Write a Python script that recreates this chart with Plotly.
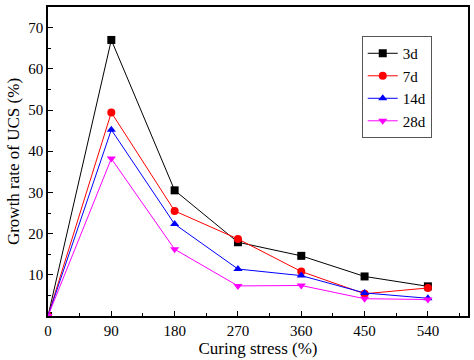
import plotly.graph_objects as go

curing_stress = [0, 90, 180, 270, 360, 450, 540]
series_names = ["3d", "7d", "14d", "28d"]
growth_3d = [0, 67.0, 30.5, 17.9, 14.6, 9.6, 7.2]
growth_7d = [0, 49.4, 25.5, 18.7, 10.8, 5.4, 6.8]
growth_14d = [0, 45.2, 22.3, 11.4, 9.8, 5.6, 4.3]
growth_28d = [0, 38.2, 16.2, 7.3, 7.4, 4.2, 4.0]
x_ticks = [0, 90, 180, 270, 360, 450, 540]
y_ticks = [10, 20, 30, 40, 50, 60, 70]

colors = ["#000000", "#ff0000", "#0000ff", "#ff00ff"]
symbols = ["square", "circle", "triangle-up", "triangle-down"]
values = [growth_3d, growth_7d, growth_14d, growth_28d]

fig = go.Figure()
for name, vals, c, s in zip(series_names, values, colors, symbols):
    fig.add_trace(go.Scatter(
        x=curing_stress, y=vals, name=name, mode="lines+markers",
        line=dict(color=c, width=1),
        marker=dict(symbol=s, size=8, color=c),
    ))

font = "Liberation Serif, Times New Roman, serif"
fig.update_layout(
    width=474, height=360,
    margin=dict(l=48, r=6, t=7, b=44),
    paper_bgcolor="white", plot_bgcolor="white",
    font=dict(family=font, size=15, color="black"),
    showlegend=True,
    legend=dict(x=0.747, y=0.906, xanchor="left", yanchor="top",
                bordercolor="#555555", borderwidth=1, bgcolor="white",
                font=dict(size=15), tracegroupgap=0, itemwidth=30),
)
fig.update_xaxes(
    range=[0, 597], tickvals=x_ticks, ticks="inside", ticklen=5,
    tickwidth=1, tickcolor="black",
    minor=dict(dtick=45, tick0=0, ticks="inside", ticklen=3, tickcolor="black"),
    showline=True, linecolor="black", linewidth=1.5, mirror=True,
    showgrid=False, zeroline=False, automargin=False,
    title=dict(text="Curing stress (%)", font=dict(size=17), standoff=2),
    tickfont=dict(size=15),
)
fig.update_yaxes(
    range=[0, 75], tickvals=y_ticks, ticks="inside", ticklen=5,
    tickwidth=1, tickcolor="black",
    minor=dict(dtick=5, tick0=0, ticks="inside", ticklen=3, tickcolor="black"),
    showline=True, linecolor="black", linewidth=1.5, mirror=True,
    showgrid=False, zeroline=False, automargin=False,
    title=dict(text="Growth rate of UCS (%)", font=dict(size=17), standoff=4),
    tickfont=dict(size=15),
)
fig.write_html(
    "out.html",
    config={"displayModeBar": False},
    post_script="document.body.style.margin='0';document.body.style.overflow='hidden';",
)
